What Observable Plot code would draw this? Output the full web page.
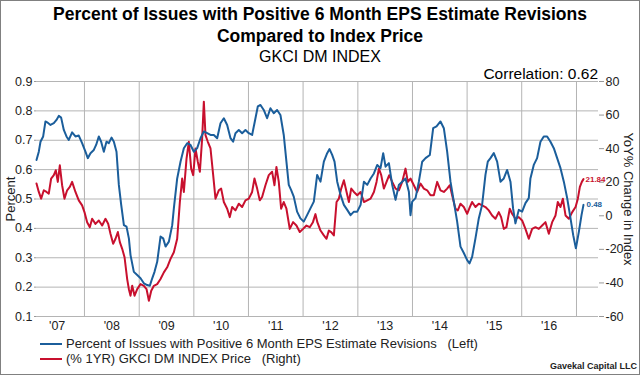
<!DOCTYPE html>
<html><head><meta charset="utf-8">
<script src="https://cdn.jsdelivr.net/npm/d3@7"></script>
<script src="https://cdn.jsdelivr.net/npm/@observablehq/plot@0.6"></script>
<style>
body{margin:0;background:#fff;font-family:"Liberation Sans",Arial,sans-serif;}
#wrap{position:relative;width:640px;height:375px;overflow:hidden;background:#fff;}
#wrap .t{position:absolute;white-space:pre;color:#000;}
#border{position:absolute;left:0;top:0;width:640px;height:375px;box-sizing:border-box;border:1px solid #808080;pointer-events:none;}
#chart{position:absolute;left:0;top:0;}
.lg{position:absolute;height:0;border-top:2px solid;}
</style></head>
<body>
<div id="wrap">
  <div id="chart"></div>
  <div class="t" style="left:0;width:640px;text-align:center;top:4px;font-size:17.5px;line-height:20px;font-weight:bold;">Percent of Issues with Positive 6 Month EPS Estimate Revisions</div>
  <div class="t" style="left:0;width:640px;text-align:center;top:26px;font-size:17.5px;line-height:20px;font-weight:bold;">Compared to Index Price</div>
  <div class="t" style="left:0;width:640px;text-align:center;top:48px;font-size:16px;line-height:18px;">GKCI DM INDEX</div>
  <div class="t" style="right:42px;top:65px;font-size:15.5px;line-height:18px;">Correlation: 0.62</div>
  <div class="lg" style="left:40px;width:22px;top:343px;border-color:#1b5e9b;"></div>
  <div class="t" style="left:66px;top:336px;font-size:13px;line-height:15px;color:#222;">Percent of Issues with Positive 6 Month EPS Estimate Revisions   (Left)</div>
  <div class="lg" style="left:40px;width:22px;top:358px;border-color:#c8102e;"></div>
  <div class="t" style="left:66px;top:351px;font-size:13px;line-height:15px;color:#222;">(% 1YR) GKCI DM INDEX Price   (Right)</div>
  <div class="t" style="right:3px;top:361px;font-size:9px;line-height:11px;font-weight:bold;color:#222;">Gavekal Capital LLC</div>
  <div id="border"></div>
</div>
<script>
// ---- data (decimal years) ----
const blueYears = [2007.122,2007.164,2007.195,2007.244,2007.286,2007.317,2007.378,2007.439,2007.488,2007.530,2007.573,2007.622,2007.671,2007.713,2007.774,2007.835,2007.896,2007.957,2008.018,2008.061,2008.110,2008.171,2008.213,2008.262,2008.305,2008.354,2008.402,2008.445,2008.494,2008.537,2008.585,2008.628,2008.671,2008.720,2008.768,2008.811,2008.841,2008.902,2008.963,2009.024,2009.085,2009.146,2009.195,2009.238,2009.280,2009.329,2009.390,2009.439,2009.482,2009.543,2009.604,
2009.634,2009.695,2009.756,2009.817,2009.878,2009.939,2010.000,2010.061,2010.122,2010.183,2010.244,2010.305,2010.366,2010.427,2010.488,2010.549,2010.610,2010.671,2010.719,2010.762,2010.823,2010.884,2010.945,2011.006,2011.067,2011.128,2011.171,2011.220,2011.280,2011.341,2011.402,2011.463,2011.524,2011.585,2011.646,2011.695,2011.738,2011.780,2011.829,2011.890,2011.951,2012.012,2012.073,2012.134,
2012.196,2012.257,2012.318,2012.379,2012.440,2012.483,2012.531,2012.574,2012.623,2012.684,2012.745,2012.806,2012.867,2012.928,2012.989,2013.050,2013.111,2013.172,2013.233,2013.294,2013.355,2013.415,2013.464,2013.507,2013.568,2013.629,2013.690,2013.751,2013.812,2013.873,2013.934,2013.964,2013.995,2014.056,2014.117,2014.178,2014.239,2014.318,2014.379,2014.440,2014.513,2014.574,2014.635,2014.696,
2014.757,2014.818,2014.879,2014.940,2015.001,2015.044,2015.092,2015.153,2015.214,2015.275,2015.336,2015.379,2015.428,2015.489,2015.550,2015.611,2015.672,2015.733,2015.794,2015.842,2015.885,2015.946,2016.007,2016.068,2016.129,2016.159,2016.220,2016.281,2016.342,2016.403,2016.464,2016.525,2016.586,2016.647,2016.708,2016.769,2016.830,2016.891,2016.940,2016.989,2017.044,2017.092,2017.128];
const blueValues = [0.633,0.661,0.695,0.713,0.764,0.761,0.752,0.758,0.769,0.783,0.777,0.735,0.713,0.701,0.727,0.713,0.716,0.690,0.661,0.639,0.656,0.667,0.684,0.713,0.695,0.661,0.695,0.690,0.709,0.695,0.661,0.548,0.480,0.411,0.406,0.366,0.309,0.252,0.241,0.230,0.213,0.207,0.205,0.230,0.252,0.286,0.372,0.366,0.338,0.355,0.411,
0.468,0.570,0.627,0.673,0.690,0.684,0.661,0.673,0.707,0.730,0.724,0.718,0.718,0.707,0.758,0.775,0.752,0.707,0.695,0.724,0.735,0.724,0.735,0.724,0.718,0.775,0.815,0.820,0.803,0.775,0.809,0.792,0.803,0.786,0.718,0.627,0.548,0.531,0.508,0.457,0.434,0.423,0.445,0.468,
0.491,0.582,0.559,0.627,0.656,0.670,0.650,0.627,0.559,0.514,0.480,0.463,0.445,0.457,0.457,0.480,0.559,0.548,0.570,0.587,0.616,0.605,0.656,0.610,0.622,0.548,0.497,0.548,0.559,0.570,0.525,0.445,0.491,0.503,0.559,0.627,0.639,0.650,0.741,0.747,0.764,0.741,0.661,0.559,
0.491,0.423,0.338,0.316,0.292,0.281,0.303,0.366,0.434,0.480,0.582,0.627,0.639,0.656,0.627,0.559,0.570,0.599,0.559,0.468,0.417,0.463,0.457,0.486,0.503,0.570,0.616,0.639,0.695,0.713,0.713,0.695,0.673,0.639,0.605,0.559,0.503,0.434,0.377,0.332,0.389,0.445,0.48];

const redYears = [2007.122,2007.164,2007.207,2007.256,2007.305,2007.347,2007.390,2007.439,2007.475,2007.512,2007.549,2007.591,2007.634,2007.683,2007.732,2007.774,2007.835,2007.896,2007.957,2008.000,2008.049,2008.098,2008.140,2008.201,2008.262,2008.323,2008.384,2008.433,2008.475,2008.524,2008.567,2008.610,2008.646,2008.689,2008.732,2008.780,2008.811,2008.841,2008.872,2008.915,2008.963,2009.024,2009.085,2009.134,2009.177,2009.220,2009.268,2009.329,2009.390,2009.451,2009.512,2009.573,
2009.634,2009.695,2009.744,2009.786,2009.817,2009.866,2009.908,2009.951,2009.988,2010.030,2010.073,2010.110,2010.152,2010.183,2010.213,2010.256,2010.305,2010.354,2010.396,2010.457,2010.500,2010.549,2010.610,2010.658,2010.701,2010.762,2010.823,2010.884,2010.945,2011.006,2011.067,2011.110,2011.159,2011.207,2011.250,2011.311,2011.372,2011.433,2011.476,2011.512,2011.555,2011.598,2011.646,2011.695,2011.756,2011.817,2011.878,2011.939,2012.000,2012.061,2012.122,
2012.180,2012.226,2012.260,2012.318,2012.379,2012.428,2012.470,2012.513,2012.562,2012.611,2012.653,2012.696,2012.745,2012.794,2012.836,2012.879,2012.928,2012.989,2013.050,2013.111,2013.172,2013.233,2013.294,2013.342,2013.385,2013.428,2013.476,2013.525,2013.574,2013.629,2013.690,2013.751,2013.812,2013.873,2013.915,2013.964,2014.025,2014.086,2014.147,2014.208,2014.269,2014.330,2014.391,2014.452,2014.513,2014.574,2014.635,2014.684,
2014.726,2014.787,2014.830,2014.879,2014.940,2015.001,2015.050,2015.092,2015.153,2015.214,2015.275,2015.336,2015.397,2015.458,2015.519,2015.580,2015.623,2015.672,2015.720,2015.781,2015.824,2015.885,2015.946,2016.007,2016.068,2016.129,2016.190,2016.251,2016.312,2016.373,2016.434,2016.495,2016.556,2016.617,2016.659,2016.708,2016.751,2016.800,2016.861,2016.922,2016.983,2017.025,2017.062,2017.098,2017.128];
const redValues = [19.2,14.2,10.2,15.2,14.2,13.2,22.2,24.2,27.1,20.2,30.1,18.2,10.2,15.2,17.2,20.2,14.2,9.2,6.2,2.2,-3.8,-6.8,-1.8,-4.8,-2.8,-5.8,-1.8,-4.8,-10.7,-16.7,-13.7,-9.7,-15.7,-19.7,-24.7,-37.7,-43.7,-47.6,-41.7,-47.6,-43.7,-40.7,-41.7,-43.7,-50.6,-44.7,-41.7,-40.7,-37.7,-33.7,-30.7,-25.7,
-21.7,-13.7,8.2,22.2,14.2,34.1,44.1,28.1,24.2,40.1,32.1,26.2,46.1,68.0,48.1,44.1,40.1,24.2,10.2,15.2,16.2,8.2,4.2,-0.8,5.2,3.2,7.2,5.2,9.2,10.2,14.2,22.2,16.2,9.2,11.2,18.2,24.2,26.2,18.2,29.1,20.2,4.2,8.2,4.2,-7.8,-3.8,-5.8,-9.7,-7.8,-5.8,-6.8,
-3.8,1.0,-3.8,-8.8,-11.7,-13.7,-8.8,-9.7,-11.7,8.2,10.2,16.2,21.2,14.2,8.2,16.2,14.2,12.2,14.2,8.2,9.2,10.2,14.2,20.2,28.1,24.2,16.2,20.2,24.2,20.2,16.2,15.2,20.2,28.1,20.2,22.2,18.2,14.2,19.2,16.2,15.2,12.2,12.2,20.2,15.2,14.2,16.2,18.2,
12.2,4.2,3.2,7.2,5.2,1.2,5.2,8.2,5.2,7.2,6.2,5.2,3.2,0.2,-1.8,2.2,-0.8,-7.8,-6.8,4.2,1.2,-1.8,-0.8,-2.8,-7.8,-13.7,-7.8,-6.8,-7.8,-5.8,-3.8,-10.7,-3.8,0.2,8.2,5.2,10.2,0.2,-1.8,2.2,5.2,10.2,17.2,20.2,21.84];

const leftTicks = [0.1,0.2,0.3,0.4,0.5,0.6,0.7,0.8,0.9];
const rightTicks = [-60,-40,-20,0,20,40,60,80];
const gridYears = [2008,2009,2010,2011,2012,2013,2014,2015,2016,2017];
const labelYears = [2007,2008,2009,2010,2011,2012,2013,2014,2015,2016];
const xStart = 2007.122, xEnd = 2017.403;

const BLUE = "#1b5e9b", RED = "#c8102e";

// ---- helpers ----
const toDate = y => { const Y = Math.floor(y); const s = Date.UTC(Y,0,1), e = Date.UTC(Y+1,0,1); return new Date(s + (y - Y) * (e - s)); };
const rightToLeft = v => 0.1 + (v + 60) / 140 * 0.8;
const leftToRight = p => (p - 0.1) / 0.8 * 140 - 60;

const blue = blueYears.map((y, i) => ({date: toDate(y), v: blueValues[i]}));
const red = redYears.map((y, i) => ({date: toDate(y), v: rightToLeft(redValues[i]), raw: redValues[i]}));
const blueLast = blue[blue.length - 1], redLast = red[red.length - 1];

const chart = Plot.plot({
  width: 640, height: 375,
  marginTop: 81, marginBottom: 59, marginLeft: 36, marginRight: 42,
  style: {fontFamily: '"Liberation Sans", Arial, sans-serif', fontSize: "12.5px", color: "#222", background: "transparent", overflow: "visible"},
  x: {type: "utc", domain: [toDate(xStart), toDate(xEnd)]},
  y: {domain: [0.1, 0.9]},
  marks: [
    Plot.gridY(leftTicks, {stroke: "#b4b4b4", strokeOpacity: 1}),
    Plot.gridX(gridYears.map(y => toDate(y)), {stroke: "#b4b4b4", strokeOpacity: 1}),
    Plot.axisY(leftTicks, {anchor: "left", tickSize: 2, tickPadding: 2, tickFormat: d => d.toFixed(1), label: null, stroke: "#999"}),
    Plot.axisY(rightTicks.map(rightToLeft), {anchor: "right", tickSize: 5, tickPadding: 2, tickFormat: d => String(Math.round(leftToRight(d))), label: null, stroke: "#999"}),
    Plot.axisX(labelYears.map(y => toDate(y + 0.5)), {anchor: "bottom", tickSize: 0, tickPadding: 5, tickFormat: d => "'" + String(d.getUTCFullYear()).slice(2), label: null}),
    Plot.text(["Percent"], {frameAnchor: "left", dx: -26, rotate: -90, textAnchor: "middle", fontSize: 13, fill: "#222"}),
    Plot.text(["YoY% Change in Index"], {frameAnchor: "right", dx: 30, rotate: 90, textAnchor: "middle", fontSize: 13, fill: "#222"}),
    Plot.line(red, {x: "date", y: "v", stroke: RED, strokeWidth: 2}),
    Plot.line(blue, {x: "date", y: "v", stroke: BLUE, strokeWidth: 2}),
    Plot.text([redLast], {x: "date", y: "v", text: d => d.raw.toFixed(2), dx: 2, textAnchor: "start", fill: RED, fontSize: 8, fontWeight: "bold"}),
    Plot.text([blueLast], {x: "date", y: "v", text: d => d.v.toFixed(2), dx: 3, textAnchor: "start", fill: BLUE, fontSize: 8, fontWeight: "bold"})
  ]
});
document.getElementById("chart").appendChild(chart);
</script>
</body></html>
